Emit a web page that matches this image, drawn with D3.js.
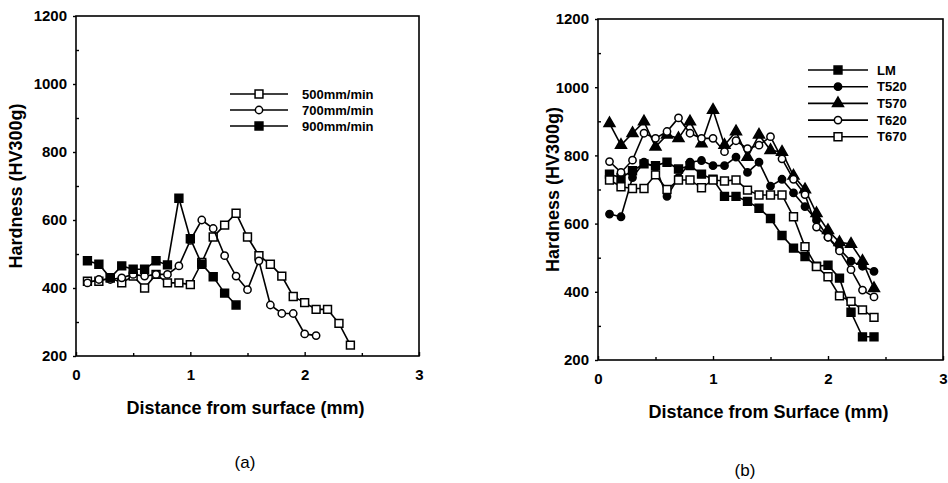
<!DOCTYPE html>
<meta charset="utf-8">
<style>
    body { margin: 0; background: #fff; }
    text { font-family: "Liberation Sans", Arial, sans-serif; fill: #000; }
    .tick text { font-weight: bold; font-size: 15px; }
    .title { font-weight: bold; font-size: 18px; }
    .legend text { font-weight: bold; font-size: 13px; }
    .panel-label { font-size: 17px; }
</style>
<body>
<svg id="chart" width="948" height="483"></svg>
<script src="https://d3js.org/d3.v7.min.js"></script>
<script>
    // panel (a): hardness vs distance for three travel speeds
    var distA500 = [0.1,0.2,0.3,0.4,0.5,0.6,0.7,0.8,0.9,1.0,1.1,1.2,1.3,1.4,1.5,1.6,1.7,1.8,1.9,2.0,2.1,2.2,2.3,2.4];
    var hard500  = [420,420,430,415,435,400,440,415,415,410,475,550,585,620,550,495,470,435,375,357,337,337,296,232];
    var distA700 = [0.1,0.2,0.3,0.4,0.5,0.6,0.7,0.8,0.9,1.0,1.1,1.2,1.3,1.4,1.5,1.6,1.7,1.8,1.9,2.0,2.1];
    var hard700  = [415,425,425,430,440,435,440,440,465,540,600,575,495,435,395,480,350,325,325,265,260];
    var distA900 = [0.1,0.2,0.3,0.4,0.5,0.6,0.7,0.8,0.9,1.0,1.1,1.2,1.3,1.4];
    var hard900  = [480,470,430,465,455,455,480,468,664,545,470,433,385,350];
    var legendA  = ["500mm/min", "700mm/min", "900mm/min"];

    // panel (b): hardness vs distance for five conditions
    var distB    = [0.1,0.2,0.3,0.4,0.5,0.6,0.7,0.8,0.9,1.0,1.1,1.2,1.3,1.4,1.5,1.6,1.7,1.8,1.9,2.0,2.1,2.2,2.3,2.4];
    var hardLM   = [745,735,755,775,770,780,760,770,745,730,680,680,665,645,615,565,528,503,475,478,440,340,268,268];
    var hardT520 = [628,620,735,780,765,680,735,780,785,770,770,795,750,780,710,730,690,650,610,560,525,490,475,460];
    var hardT570 = [894,830,865,899,825,860,850,899,835,933,830,870,795,860,815,810,740,700,630,580,545,540,490,410];
    var hardT620 = [782,750,786,865,850,870,910,865,850,850,811,843,820,830,855,790,730,685,590,560,520,465,405,385];
    var hardT670 = [728,708,703,703,743,700,728,728,705,728,725,728,698,684,684,684,620,532,474,444,388,372,347,325];
    var legendB  = ["LM", "T520", "T570", "T620", "T670"];

    var yTicks = [200, 400, 600, 800, 1000, 1200];
    var yMinor = [300, 500, 700, 900, 1100];
    var xTicks = [0, 1, 2, 3];
    var xMinor = [0.5, 1.5, 2.5];

    var svg = d3.select("#chart");
    svg.append("rect").attr("width", 948).attr("height", 483).attr("fill", "#fff");

    function zip(xs, ys) {
        return xs.map(function(d, i) { return [d, ys[i]]; });
    }

    function marker(kind) {
        var type = d3.symbolSquare, size = 62;
        if (kind.indexOf("circle") >= 0) { type = d3.symbolCircle; size = 42; }
        if (kind.indexOf("triangle") >= 0) { type = d3.symbolTriangle; size = 52; }
        return d3.symbol().type(type).size(size)();
    }

    function drawPanel(p) {
        var x = d3.scaleLinear().domain([0, 3]).range([p.left, p.right]);
        var y = d3.scaleLinear().domain([200, 1200]).range([p.bottom, p.top]);
        var g = svg.append("g");

        g.append("rect")
            .attr("x", p.left).attr("y", p.top)
            .attr("width", p.right - p.left).attr("height", p.bottom - p.top)
            .attr("fill", "none").attr("stroke", "#000").attr("stroke-width", 1.6);

        // y axis: labelled ticks point out, minor ticks point in
        g.append("g").attr("transform", "translate(" + p.left + ",0)")
            .call(d3.axisLeft(y).tickValues(yTicks).tickSize(3).tickPadding(6).tickFormat(d3.format("d")));
        g.append("g").attr("transform", "translate(" + p.left + ",0)")
            .call(d3.axisLeft(y).tickValues(yMinor).tickSize(-3).tickFormat(""));
        g.append("g").attr("transform", "translate(0," + p.bottom + ")")
            .call(d3.axisBottom(x).tickValues(xTicks).tickSize(-4).tickPadding(13).tickFormat(d3.format("d")));
        g.append("g").attr("transform", "translate(0," + p.bottom + ")")
            .call(d3.axisBottom(x).tickValues(xMinor).tickSize(-3).tickFormat(""));
        g.selectAll(".domain").remove();
        g.selectAll(".tick line").attr("stroke", "#000").attr("stroke-width", 1.4);

        g.append("text").attr("class", "title")
            .attr("transform", "translate(" + p.yTitleX + "," + (p.top + p.bottom) / 2 + ") rotate(-90)")
            .attr("text-anchor", "middle").attr("dy", "0.35em")
            .text("Hardness (HV300g)");
        g.append("text").attr("class", "title")
            .attr("x", (p.left + p.right) / 2 - 2).attr("y", p.xTitleY)
            .attr("text-anchor", "middle")
            .text(p.xTitle);
        g.append("text").attr("class", "panel-label")
            .attr("x", p.labelX).attr("y", p.labelY)
            .attr("text-anchor", "middle")
            .text(p.label);

        var line = d3.line().x(function(d) { return x(d[0]); }).y(function(d) { return y(d[1]); });

        p.series.forEach(function(s) {
            var pts = zip(s.dist, s.vals);
            g.append("path").datum(pts)
                .attr("d", line)
                .attr("fill", "none").attr("stroke", "#000").attr("stroke-width", 1.6);
            g.selectAll(null).data(pts).enter().append("path")
                .attr("transform", function(d) { return "translate(" + x(d[0]) + "," + y(d[1]) + ")"; })
                .attr("d", marker(s.kind))
                .attr("fill", s.kind.indexOf("open") >= 0 ? "#fff" : "#000")
                .attr("stroke", "#000").attr("stroke-width", 1.5);
        });

        // legend
        var lg = g.append("g").attr("class", "legend");
        p.series.forEach(function(s, i) {
            var ly = p.legend.y + i * p.legend.step;
            lg.append("line")
                .attr("x1", p.legend.x1).attr("x2", p.legend.x2)
                .attr("y1", ly).attr("y2", ly)
                .attr("stroke", "#000").attr("stroke-width", 1.6);
            lg.append("path")
                .attr("transform", "translate(" + (p.legend.x1 + p.legend.x2) / 2 + "," + ly + ")")
                .attr("d", marker(s.kind))
                .attr("fill", s.kind.indexOf("open") >= 0 ? "#fff" : "#000")
                .attr("stroke", "#000").attr("stroke-width", 1.5);
            lg.append("text")
                .attr("x", p.legend.tx).attr("y", ly).attr("dy", "0.35em")
                .text(p.legendNames[i]);
        });
    }

    drawPanel({
        left: 76, right: 419, top: 16, bottom: 356,
        yTitleX: 16, xTitleY: 414, xTitle: "Distance from surface (mm)",
        label: "(a)", labelX: 245, labelY: 468,
        legend: { x1: 230, x2: 288, y: 94, step: 16, tx: 302 },
        legendNames: legendA,
        series: [
            { dist: distA500, vals: hard500, kind: "open square" },
            { dist: distA700, vals: hard700, kind: "open circle" },
            { dist: distA900, vals: hard900, kind: "filled square" }
        ]
    });

    drawPanel({
        left: 598, right: 943, top: 19, bottom: 360,
        yTitleX: 553, xTitleY: 418, xTitle: "Distance from Surface (mm)",
        label: "(b)", labelX: 745, labelY: 476,
        legend: { x1: 808, x2: 868, y: 70, step: 16.7, tx: 877 },
        legendNames: legendB,
        series: [
            { dist: distB, vals: hardLM, kind: "filled square" },
            { dist: distB, vals: hardT520, kind: "filled circle" },
            { dist: distB, vals: hardT570, kind: "filled triangle" },
            { dist: distB, vals: hardT620, kind: "open circle" },
            { dist: distB, vals: hardT670, kind: "open square" }
        ]
    });
</script>
</body>
